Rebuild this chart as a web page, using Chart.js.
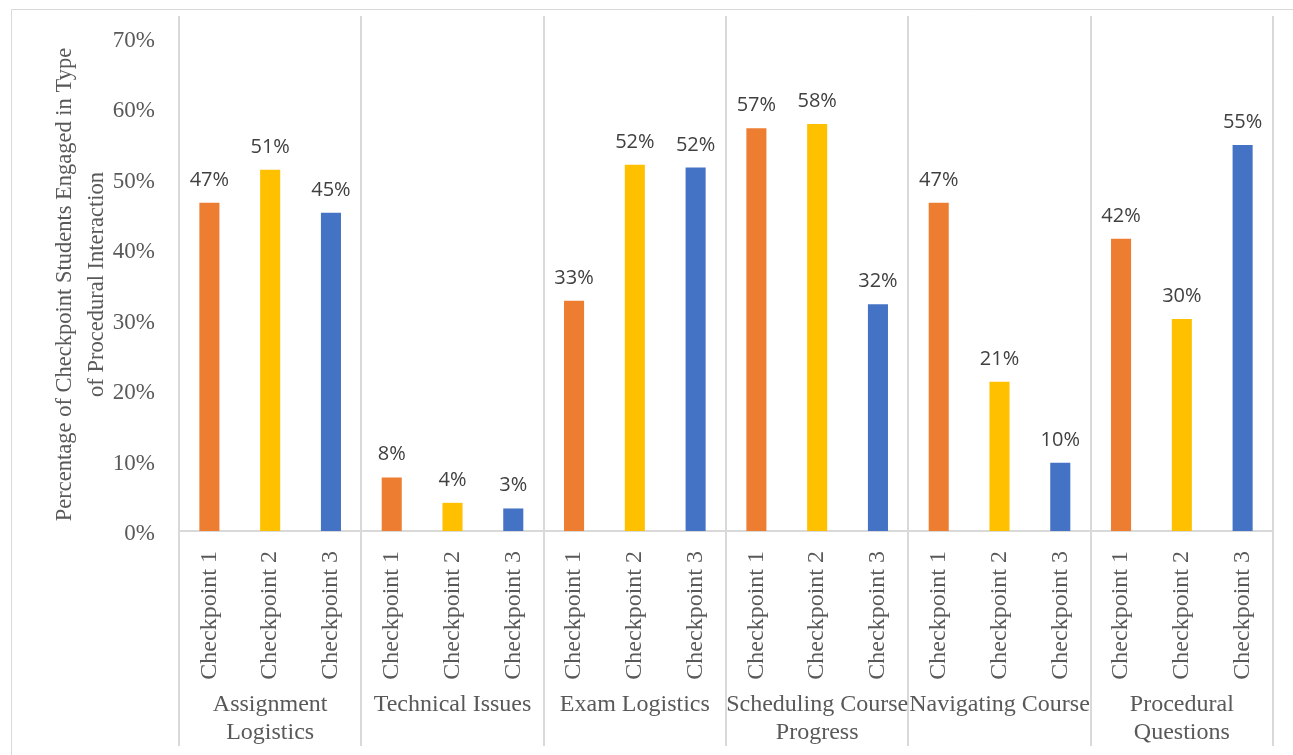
<!DOCTYPE html>
<html>
<head>
<meta charset="utf-8">
<script src="https://cdn.jsdelivr.net/npm/chart.js@4/dist/chart.umd.min.js"></script>
<style>
  html, body { margin: 0; padding: 0; background: #fff; }
  canvas { display: block; }
</style>
</head>
<body>
<canvas id="chart" width="1293" height="755"></canvas>
<script>
// groups of interaction type (multi-line where the original wraps)
const groups = [
  ["Assignment", "Logistics"],
  ["Technical Issues"],
  ["Exam Logistics"],
  ["Scheduling Course", "Progress"],
  ["Navigating Course"],
  ["Procedural", "Questions"],
];
const checkpoints = ["Checkpoint 1", "Checkpoint 2", "Checkpoint 3"];

// percentage of students per group, one array per checkpoint
const checkpoint1 = [46.6, 7.6, 32.7, 57.2, 46.6, 41.5];
const checkpoint2 = [51.3, 4.0, 52.0, 57.8, 21.2, 30.1];
const checkpoint3 = [45.2, 3.2, 51.6, 32.2, 9.7, 54.8];

const yTicks = [0, 10, 20, 30, 40, 50, 60, 70];
const colors = ["#ED7D31", "#FFC000", "#4472C4"];

// flatten to 18 category slots (group x checkpoint)
const labels = [];
groups.forEach(() => checkpoints.forEach((c) => labels.push(c)));

function spread(values, k) {
  const out = [];
  values.forEach((v, g) => {
    for (let i = 0; i < 3; i++) out.push(i === k ? v : null);
  });
  return out;
}

const series = [checkpoint1, checkpoint2, checkpoint3];
const datasets = series.map((vals, k) => ({
  label: checkpoints[k],
  data: spread(vals, k),
  backgroundColor: colors[k],
  grouped: false,
  barPercentage: 0.33,
  categoryPercentage: 1,
}));

const serif = "'Liberation Serif', 'Times New Roman', serif";

// separators, group names, data labels, frame
const decorations = {
  id: "decorations",
  afterDatasetsDraw(chart) {
    const ctx = chart.ctx;
    const x = chart.scales.x;
    ctx.save();

    // outer frame
    ctx.strokeStyle = "#d9d9d9";
    ctx.lineWidth = 1;
    ctx.beginPath();
    ctx.moveTo(11.5, 760);
    ctx.lineTo(11.5, 9.5);
    ctx.lineTo(1300, 9.5);
    ctx.stroke();

    // group separators
    ctx.lineWidth = 2;
    for (let g = 0; g <= groups.length; g++) {
      const px = Math.round(x.getPixelForValue(g * 3 - 0.5));
      ctx.beginPath();
      ctx.moveTo(px, 16);
      ctx.lineTo(px, 746);
      ctx.stroke();
    }

    // group names
    ctx.fillStyle = "#595959";
    ctx.font = "24px " + serif;
    ctx.textAlign = "center";
    ctx.textBaseline = "middle";
    groups.forEach((lines, g) => {
      const cx = x.getPixelForValue(g * 3 + 1);
      lines.forEach((t, i) => ctx.fillText(t, cx, 705 + i * 28));
    });

    // value labels
    ctx.fillStyle = "#404040";
    ctx.font = "20px 'Open Sans', 'Noto Sans', sans-serif";
    ctx.textBaseline = "alphabetic";
    chart.data.datasets.forEach((ds, di) => {
      const meta = chart.getDatasetMeta(di);
      meta.data.forEach((bar, i) => {
        const v = ds.data[i];
        if (v === null) return;
        ctx.fillText(Math.round(v) + "%", bar.x, bar.y - 17);
      });
    });
    ctx.restore();
  },
};

new Chart(document.getElementById("chart"), {
  type: "bar",
  data: { labels: labels, datasets: datasets },
  options: {
    responsive: false,
    animation: false,
    layout: { padding: { left: 0, right: 20, top: 38, bottom: 0 } },
    plugins: {
      legend: { display: false },
      tooltip: { enabled: false },
    },
    scales: {
      x: {
        grid: { display: false },
        border: { color: "#d9d9d9", width: 2 },
        ticks: {
          color: "#595959",
          font: { family: serif, size: 24 },
          minRotation: 90,
          maxRotation: 90,
          autoSkip: false,
          padding: 12,
        },
        afterFit(scale) {
          scale.height = 224;
        },
      },
      y: {
        min: 0,
        max: 70,
        grid: { display: false },
        border: { display: false },
        afterBuildTicks(scale) {
          scale.ticks = yTicks.map((v) => ({ value: v }));
        },
        ticks: {
          color: "#595959",
          font: { family: serif, size: 23 },
          padding: 16,
          labelOffset: 3,
          callback: (v) => v + "%",
        },
        title: {
          display: true,
          text: [
            "Percentage of Checkpoint Students Engaged in Type",
            "of Procedural Interaction",
          ],
          color: "#595959",
          font: { family: serif, size: 22.5, lineHeight: 1.42 },
          padding: { top: 49, bottom: 0 },
        },
        afterFit(scale) {
          scale.width = 179;
        },
      },
    },
  },
  plugins: [decorations],
});
</script>
</body>
</html>
